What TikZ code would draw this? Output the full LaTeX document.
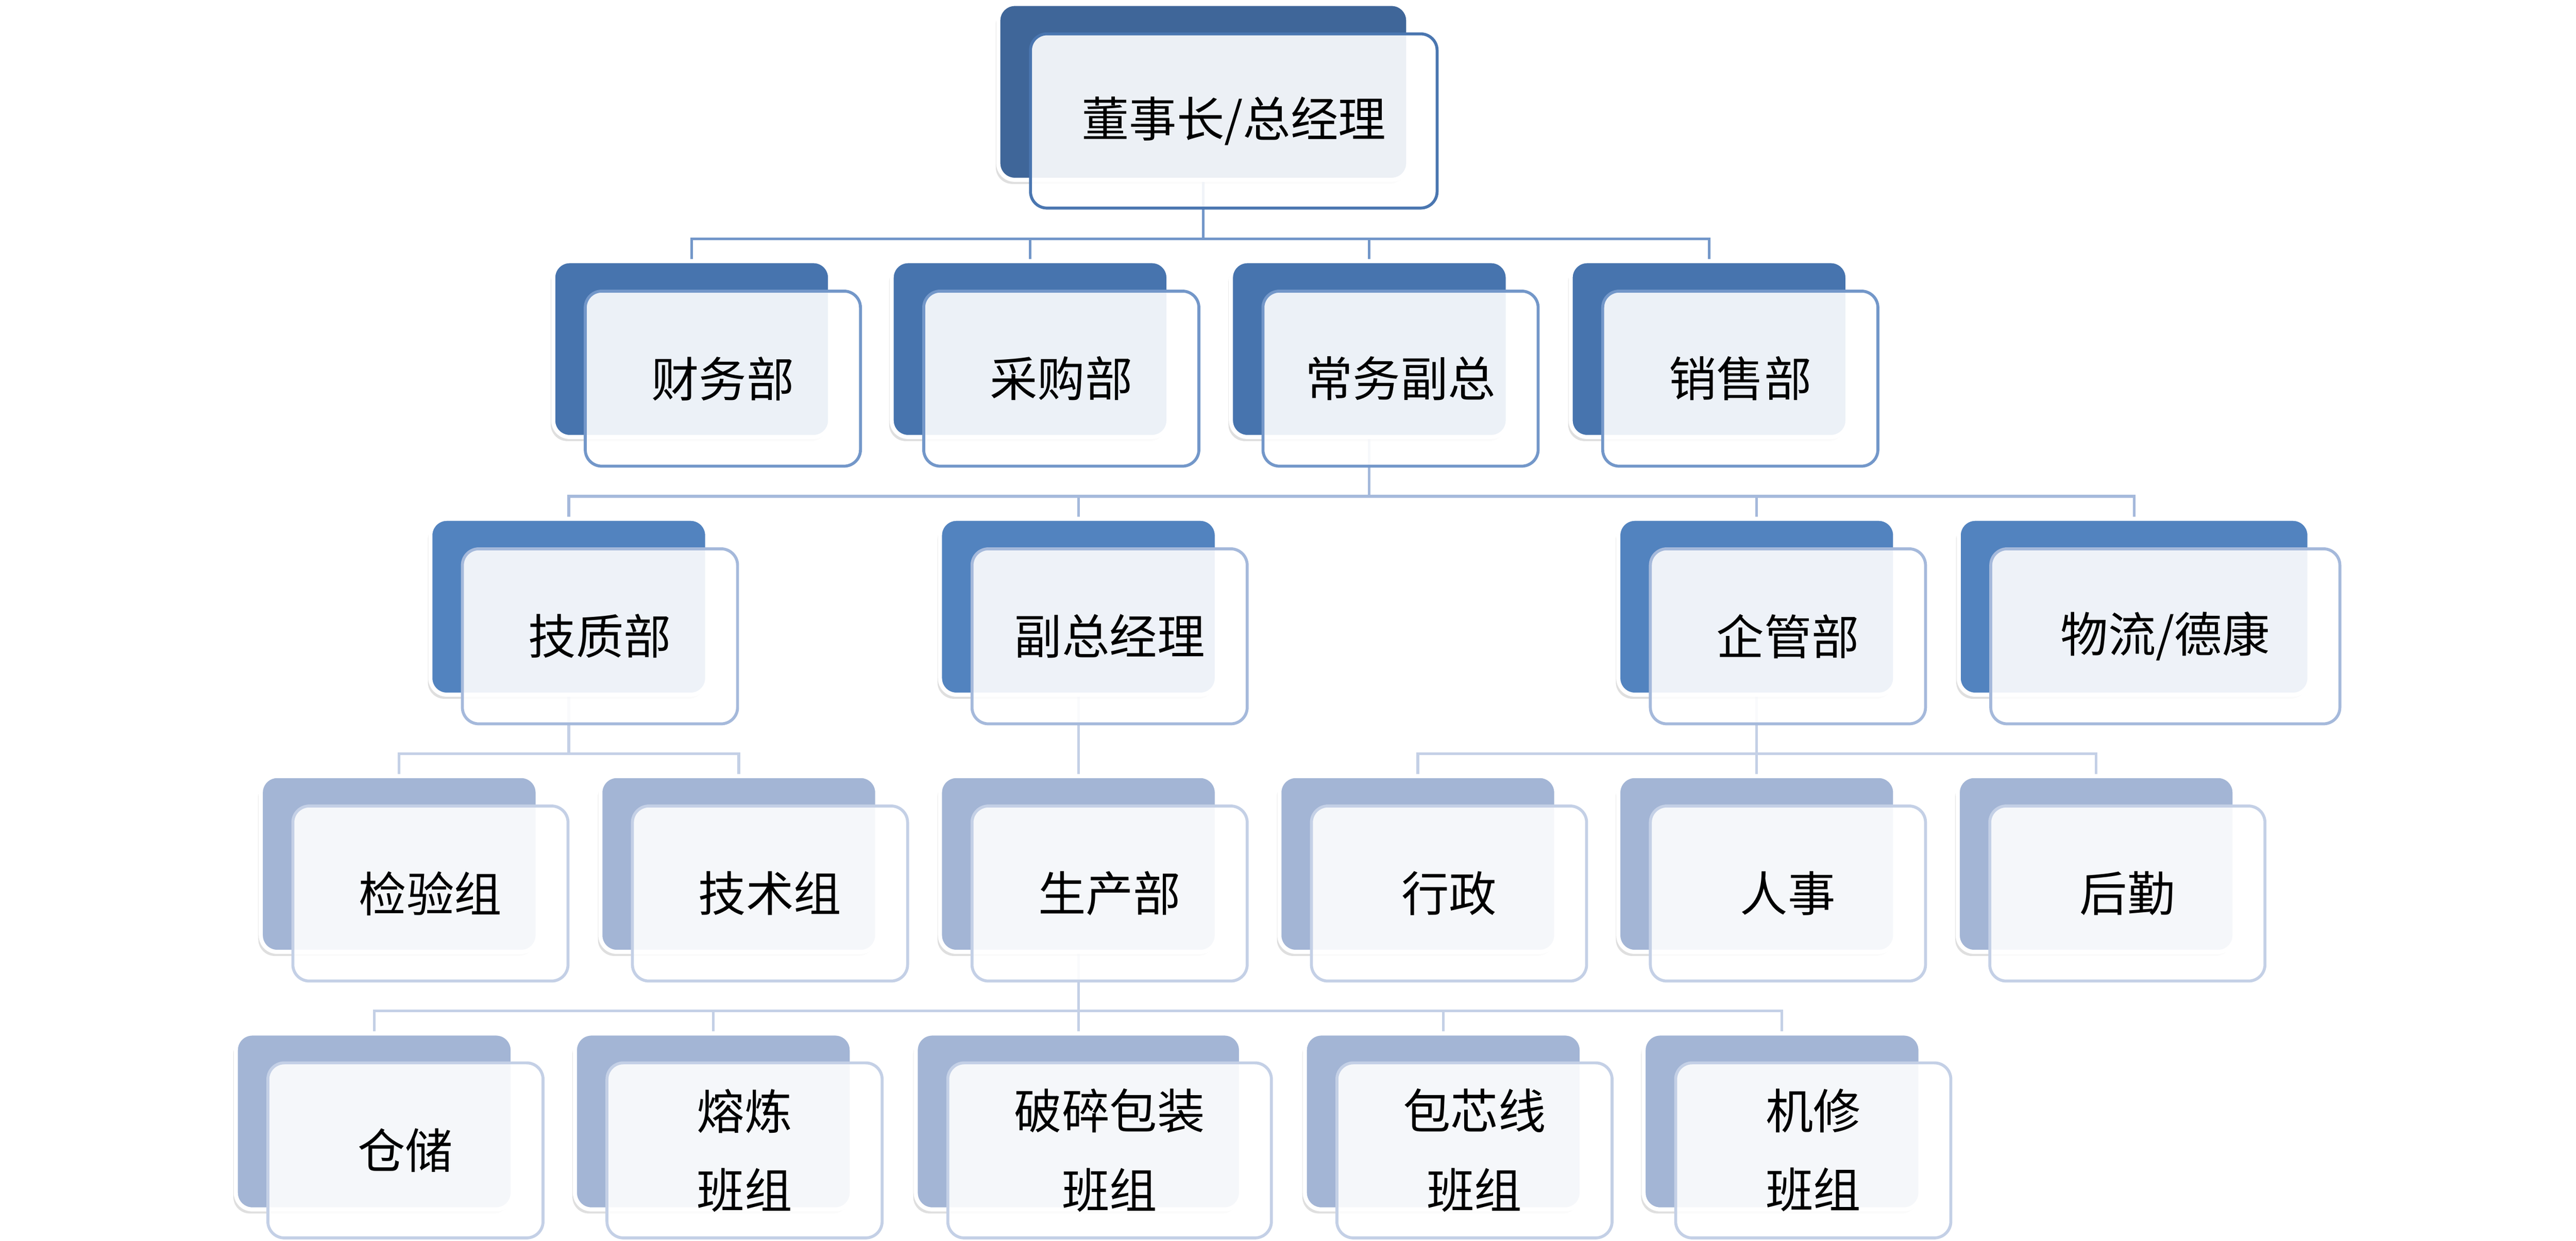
\documentclass[tikz,border=0pt]{standalone}
\usepackage{fontspec}
\setmainfont{Noto Sans CJK SC}
\usetikzlibrary{shadows, backgrounds}
\definecolor{backA}{HTML}{3F6699}
\definecolor{backB}{HTML}{4774AE}
\definecolor{backC}{HTML}{5283BF}
\definecolor{backD}{HTML}{A3B5D5}
\definecolor{rimA}{HTML}{4A76B0}
\definecolor{rimB}{HTML}{7397C9}
\definecolor{rimC}{HTML}{A5B9DB}
\definecolor{rimD}{HTML}{C4D0E6}
\tikzset{
  back/.style={draw=white, line width=2.5pt, rounded corners=10pt,
    minimum height=107pt, inner sep=0pt,
    drop shadow={shadow xshift=-1.5pt, shadow yshift=-2.5pt, opacity=.25}},
  front/.style={line width=1.8pt, rounded corners=10pt, fill=white,
    fill opacity=.9, text opacity=1, minimum height=106.5pt, inner sep=0pt,
    align=center, font=\fontsize{29}{48}\selectfont},
  link/.style={line width=1.6pt},
}
\begin{document}
\begin{tikzpicture}[x=1pt, y=-1pt]
	\useasboundingbox (0,0) rectangle (1568,755);

	% level 0
	\node[back, fill=backA, minimum width=249.5pt] (ceo) at (732.4,55.9) {};
	\node[front, draw=rimA, minimum width=247.5pt, minimum height=106pt]
		(ceo-f) at ([shift={(18.6,17.7)}]ceo.center) {董事长/总经理};

	% level 1
	\foreach \n/\x/\w/\t in {fin/421/168.5/财务部, pur/627/168.5/采购部,
			vp/833.5/168.5/常务副总, sal/1040.3/168.5/销售部} {
		\node[back, fill=backB, minimum width=\w pt] (\n) at (\x,212.4) {};
		\node[front, draw=rimB, minimum width=\w pt-1pt]
			(\n-f) at ([shift={(19,18)}]\n.center) {\t};
	}

	% level 2
	\foreach \n/\x/\w/\t in {qc/346.2/168.5/技质部, dvp/656.4/168.5/副总经理,
			adm/1069.3/168.5/企管部, log/1299/213.5/{物流/德康}} {
		\node[back, fill=backC, minimum width=\w pt] (\n) at (\x,369.2) {};
		\node[front, draw=rimC, minimum width=\w pt-1pt]
			(\n-f) at ([shift={(19,18)}]\n.center) {\t};
	}

	% level 3
	\foreach \n/\x/\w/\t in {insp/243/168.5/检验组, tech/449.7/168.5/技术组,
			prod/656.4/168.5/生产部, admin/863/168.5/行政,
			hr/1069.3/168.5/人事, svc/1275.9/168.5/后勤} {
		\node[back, fill=backD, minimum width=\w pt] (\n) at (\x,525.7) {};
		\node[front, draw=rimD, minimum width=\w pt-1pt]
			(\n-f) at ([shift={(19,18)}]\n.center) {\t};
	}

	% level 4
	\foreach \n/\x/\w/\t in {store/227.8/168.5/仓储, melt/434.2/168.5/{熔炼\\班组},
			crush/656.4/198/{破碎包装\\班组}, core/878.5/168.5/{包芯线\\班组},
			mend/1084.7/168.5/{机修\\班组}} {
		\node[back, fill=backD, minimum width=\w pt] (\n) at (\x,682.4) {};
		\node[front, draw=rimD, minimum width=\w pt-1pt]
			(\n-f) at ([shift={(19,17.6)}]\n.center) {\t};
	}

	% connectors
	\begin{scope}[on background layer]
		\coordinate (bus0) at (0,145.4);
		\coordinate (bus1) at (0,302);
		\coordinate (bus2) at (0,458.5);
		\coordinate (bus3) at (0,615.2);
		\foreach \c in {fin,pur,vp,sal}
			\draw[link, draw=rimB] (ceo) -- (ceo |- bus0) -| (\c);
		\foreach \c in {qc,dvp,adm,log}
			\draw[link, draw=rimC] (vp) -- (vp |- bus1) -| (\c);
		\foreach \c in {insp,tech}
			\draw[link, draw=rimD] (qc) -- (qc |- bus2) -| (\c);
		\draw[link, draw=rimD] (dvp) -- (prod);
		\foreach \c in {admin,hr,svc}
			\draw[link, draw=rimD] (adm) -- (adm |- bus2) -| (\c);
		\foreach \c in {store,melt,crush,core,mend}
			\draw[link, draw=rimD] (prod) -- (prod |- bus3) -| (\c);
	\end{scope}
\end{tikzpicture}
\end{document}
